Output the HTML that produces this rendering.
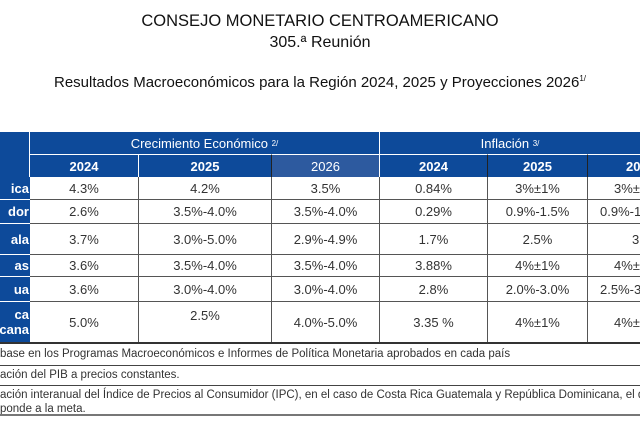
<!DOCTYPE html>
<html><head><meta charset="utf-8"><style>
body{margin:0;width:640px;height:424px;background:#fff;overflow:hidden;font-family:"Liberation Sans",sans-serif;position:relative;color:#222}
.a{position:absolute}
.t{left:0;width:640px;text-align:center;color:#111}
.h{background:#0d4a9a;color:#fff;font-weight:bold;display:flex;align-items:center;justify-content:center;font-size:13px;box-sizing:border-box}
.c{display:flex;align-items:center;justify-content:center;font-size:13px;color:#333;box-sizing:border-box;border-right:1px solid #555;border-bottom:1px solid #555;white-space:nowrap}
.l{background:#0d4a9a;color:#fff;font-weight:bold;font-size:13px;display:flex;align-items:center;justify-content:flex-end;overflow:hidden;white-space:nowrap;box-sizing:border-box;border-bottom:1px solid #fff;padding-right:1px}
.f{left:0;font-size:11.5px;color:#333;white-space:nowrap}
.hl{left:0;width:640px;height:1px;background:#444}
sup{font-size:8px}
</style></head><body>
<div class="a t" style="top:12px;font-size:16.5px">CONSEJO MONETARIO CENTROAMERICANO</div>
<div class="a t" style="top:34px;font-size:16px">305.ª Reunión</div>
<div class="a t" style="top:74px;font-size:15px">Resultados Macroeconómicos para la Región 2024, 2025 y Proyecciones 2026<sup>1/</sup></div>

<div class="a h" style="left:0;top:132px;width:30px;height:45px;border-right:1px solid #fff"></div>
<div class="a h" style="left:30px;top:132px;width:350px;height:22px;font-weight:normal;border-right:1px solid #fff">Crecimiento Económico&nbsp;<sup>2/</sup></div>
<div class="a h" style="left:380px;top:132px;width:260px;height:22px;font-weight:normal">Inflación&nbsp;<sup>3/</sup></div>
<div class="a h" style="left:30px;top:154px;width:109px;height:23px;border-top:1px solid #fff;border-right:1px solid #fff">2024</div>
<div class="a h" style="left:139px;top:154px;width:133px;height:23px;border-top:1px solid #fff;border-right:1px solid #222">2025</div>
<div class="a h" style="left:272px;top:154px;width:108px;height:23px;border-top:1px solid #fff;background:#2d5a9f;font-weight:normal;border-right:1px solid #fff">2026</div>
<div class="a h" style="left:380px;top:154px;width:108px;height:23px;border-top:1px solid #fff;border-right:1px solid #222">2024</div>
<div class="a h" style="left:488px;top:154px;width:100px;height:23px;border-top:1px solid #fff;border-right:1px solid #222">2025</div>
<div class="a h" style="left:588px;top:154px;width:60px;height:23px;border-top:1px solid #fff;justify-content:flex-start;padding-left:38px">2026</div>

<div id="rows"></div>
<script>
var X=[30,139,272,380,488,588,640];
var R=[[177,200,"ica",["4.3%","4.2%","3.5%","0.84%","3%±1%","3%±1%"]],
[200,224,"dor",["2.6%","3.5%-4.0%","3.5%-4.0%","0.29%","0.9%-1.5%","0.9%-1.5%"]],
[224,255,"ala",["3.7%","3.0%-5.0%","2.9%-4.9%","1.7%","2.5%","3.5%"]],
[255,277,"as",["3.6%","3.5%-4.0%","3.5%-4.0%","3.88%","4%±1%","4%±1%"]],
[277,302,"ua",["3.6%","3.0%-4.0%","3.0%-4.0%","2.8%","2.0%-3.0%","2.5%-3.5%"]],
[302,343,"",["5.0%","2.5%","4.0%-5.0%","3.35 %","4%±1%","4%±1%"]]];
var h="";
R.forEach(function(r,i){
 var lab=i==5?'<div style="text-align:right;line-height:15px">ca<br>cana</div>':r[2];
 h+='<div class="a l" style="left:0;top:'+r[0]+'px;width:30px;height:'+(r[1]-r[0])+'px">'+lab+'</div>';
 for(var j=0;j<6;j++){
  var w=X[j+1]-X[j];var st='';
  if(j==5){st='justify-content:flex-start;padding-left:'+(i==2?44:i==0||i==3||i==5?26:12)+'px;border-right:none;';w=60;}
  if(i==5&&j==1)st+='align-items:flex-start;padding-top:6px;';
  h+='<div class="a c" style="left:'+X[j]+'px;top:'+r[0]+'px;width:'+w+'px;height:'+(r[1]-r[0])+'px;'+st+'">'+r[3][j]+'</div>';
 }
});
document.getElementById('rows').innerHTML=h;
</script>
<div class="a hl" style="top:342px;height:2px;background:#333"></div>
<div class="a f" style="top:348px">base en los Programas Macroeconómicos e Informes de Política Monetaria aprobados en cada país</div>
<div class="a hl" style="top:365px"></div>
<div class="a f" style="top:369px">ación del PIB a precios constantes.</div>
<div class="a hl" style="top:385px"></div>
<div class="a f" style="top:389px">ación interanual del Índice de Precios al Consumidor (IPC), en el caso de Costa Rica Guatemala y República Dominicana, el dato</div>
<div class="a f" style="top:403px">ponde a la meta.</div>
<div class="a hl" style="top:414px;height:2px;background:#777"></div>
</body></html>
